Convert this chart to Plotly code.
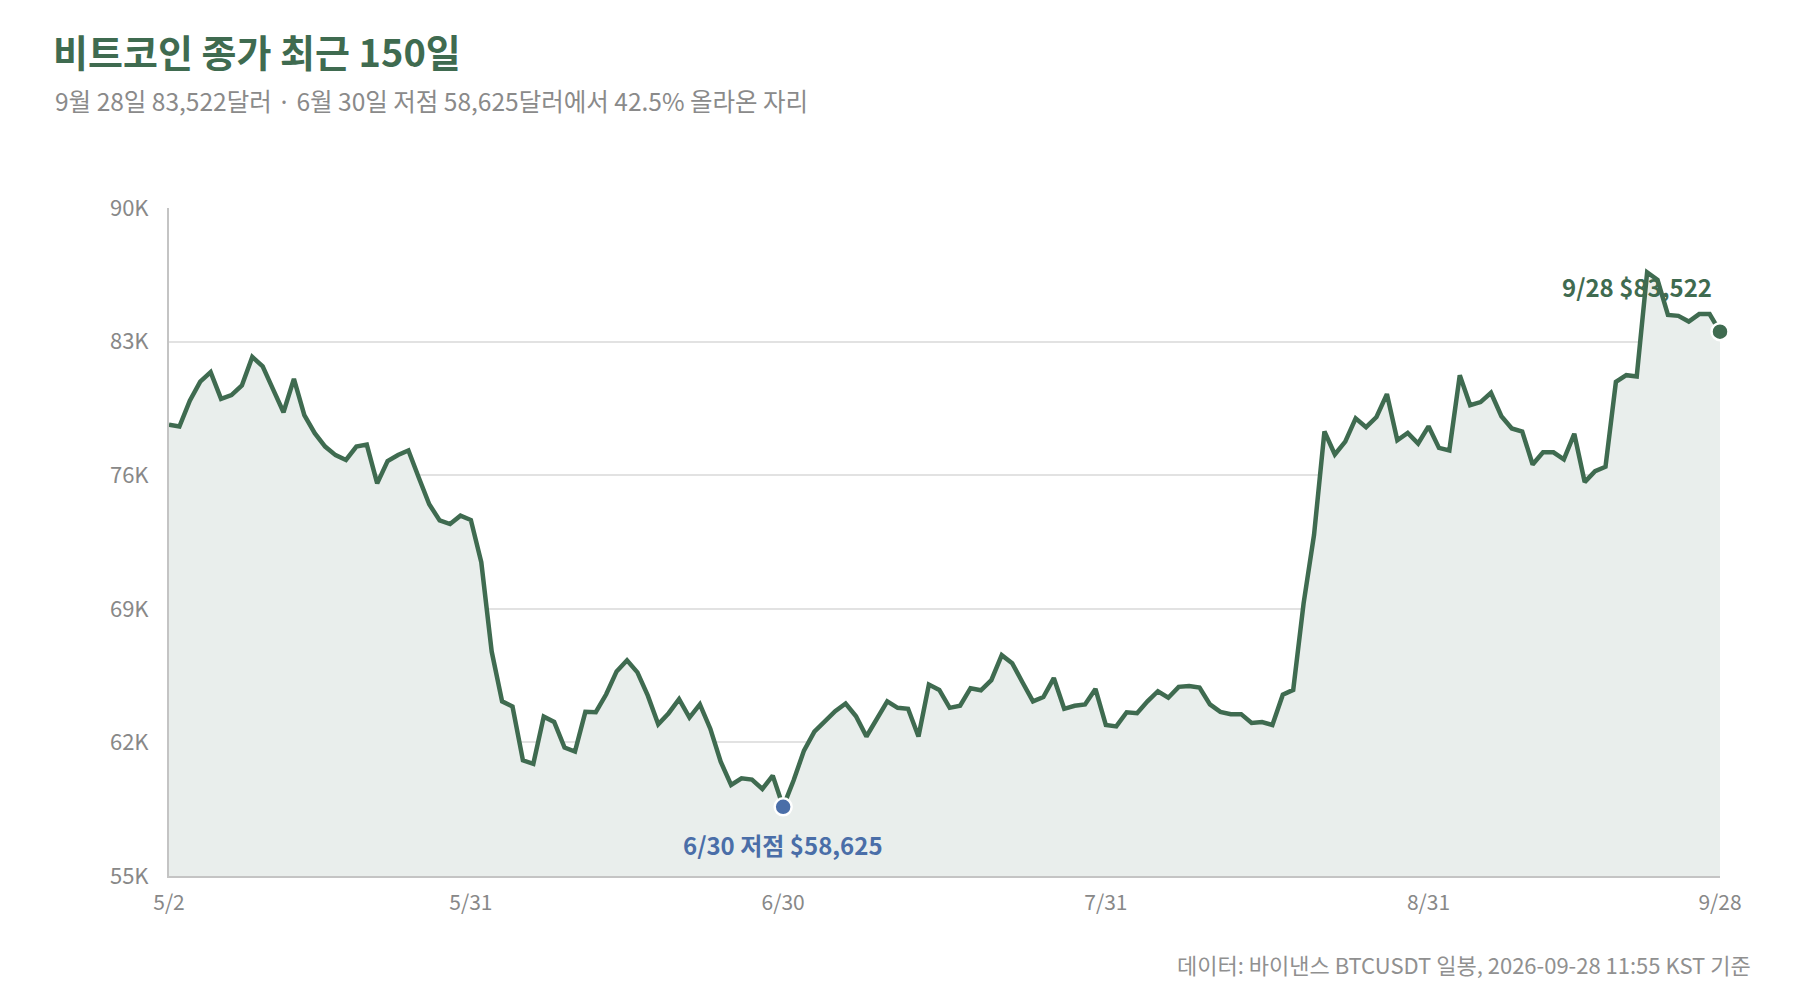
import pandas as pd
import plotly.graph_objects as go

# 비트코인 일봉 종가 (5/2 ~ 9/28, 150일)
dates = pd.date_range('2026-05-02', '2026-09-28', freq='D')
closes = [
    78650, 78550, 79900, 80900, 81400, 80000, 80200, 80700, 82200, 81700,
    80500, 79300, 81050, 79150, 78200, 77500, 77050, 76800, 77500, 77600,
    75570, 76740, 77060, 77300, 75870, 74480, 73630, 73440, 73880, 73650,
    71440, 66760, 64150, 63880, 61060, 60880, 63350, 63070, 61730, 61520,
    63600, 63580, 64520, 65720, 66300, 65670, 64450, 62950, 63530, 64270,
    63300, 63990, 62720, 60990, 59770, 60120, 60050, 59560, 60260, 58625,
    60000, 61570, 62560, 63110, 63640, 64040, 63370, 62310, 63230, 64150,
    63810, 63760, 62310, 65030, 64750, 63810, 63920, 64840, 64730, 65260,
    66570, 66150, 65140, 64150, 64380, 65370, 63760, 63920, 63990, 64800,
    62910, 62840, 63580, 63530, 64150, 64680, 64340, 64910, 64960, 64870,
    63990, 63600, 63480, 63480, 63020, 63070, 62910, 64500, 64750, 69290,
    72870, 78290, 77090, 77760, 78980, 78520, 79050, 80250, 77830, 78220,
    77660, 78560, 77430, 77300, 81240, 79670, 79830, 80320, 79090, 78450,
    78290, 76560, 77200, 77200, 76830, 78170, 75640, 76210, 76440, 80890,
    81240, 81170, 86630, 86240, 84400, 84350, 84050, 84440, 84440, 83522,
]

y_ticks = [55000, 62000, 69000, 76000, 83000, 90000]
y_labels = ['55K', '62K', '69K', '76K', '83K', '90K']
x_ticks = ['2026-05-02', '2026-05-31', '2026-06-30', '2026-07-31', '2026-08-31', '2026-09-28']
x_labels = ['5/2', '5/31', '6/30', '7/31', '8/31', '9/28']

low_date, low_val = '2026-06-30', 58625
last_date, last_val = '2026-09-28', 83522

GREEN = '#3f6b50'
BLUE = '#4a6ea8'
FONT = 'Noto Sans CJK KR'

fig = go.Figure()

# 면적 + 라인
fig.add_trace(go.Scatter(
    x=dates, y=closes,
    mode='lines',
    line=dict(color=GREEN, width=4.5),
    fill='tozeroy',
    fillcolor='#e9eeec',
    hoverinfo='skip',
    showlegend=False
))

# 저점 마커
fig.add_trace(go.Scatter(
    x=[low_date], y=[low_val],
    mode='markers',
    marker=dict(color=BLUE, size=17, line=dict(color='white', width=2.5)),
    showlegend=False
))

# 마지막 종가 마커
fig.add_trace(go.Scatter(
    x=[last_date], y=[last_val],
    mode='markers',
    marker=dict(color=GREEN, size=17, line=dict(color='white', width=2.5)),
    showlegend=False,
    cliponaxis=False
))

fig.add_annotation(
    x=low_date, y=low_val, text='<b>6/30 저점 $58,625</b>',
    showarrow=False, yshift=-38, xanchor='center', yanchor='middle',
    font=dict(family=FONT, size=24, color=BLUE)
)
fig.add_annotation(
    x=last_date, y=last_val, text='<b>9/28 $83,522</b>',
    showarrow=False, yshift=45, xshift=-6, xanchor='right', yanchor='middle',
    font=dict(family=FONT, size=24, color=GREEN)
)

# 부제목, 출처
fig.add_annotation(
    xref='paper', yref='paper', x=-0.0748, y=1.161,
    text='9월 28일 83,522달러 · 6월 30일 저점 58,625달러에서 42.5% 올라온 자리',
    showarrow=False, xanchor='left', yanchor='middle',
    font=dict(family=FONT, size=24.5, color='#8a8a8a')
)
fig.add_annotation(
    xref='paper', yref='paper', x=1.0213, y=-0.1317,
    text='데이터: 바이낸스 BTCUSDT 일봉, 2026-09-28 11:55 KST 기준',
    showarrow=False, xanchor='right', yanchor='middle',
    font=dict(family=FONT, size=22, color='#909090')
)

fig.update_layout(
    width=1800, height=1000,
    paper_bgcolor='white', plot_bgcolor='white',
    margin=dict(l=161, r=88, t=200, b=132),
    font=dict(family=FONT, color='#888888'),
    title=dict(
        text='<b>비트코인 종가 최근 150일</b>',
        xref='container', yref='container', x=0.025, y=0.954,
        xanchor='left', yanchor='middle',
        font=dict(family=FONT, size=38, color=GREEN)
    ),
    xaxis=dict(
        range=['2026-05-02', '2026-09-28'],
        tickvals=x_ticks, ticktext=x_labels,
        showgrid=False, zeroline=False,
        showline=True, linecolor='#c4c4c4', linewidth=2,
        ticks='', ticklabelstandoff=7,
        tickfont=dict(family=FONT, size=21, color='#888888')
    ),
    yaxis=dict(
        range=[55000, 90000],
        tickvals=y_ticks, ticktext=y_labels,
        showgrid=True, gridcolor='#e2e2e2', gridwidth=1.5,
        zeroline=False,
        showline=True, linecolor='#c4c4c4', linewidth=2,
        ticks='', ticklabelstandoff=14,
        tickfont=dict(family=FONT, size=22, color='#888888')
    ),
    hovermode=False
)

fig.write_html('out.html')
